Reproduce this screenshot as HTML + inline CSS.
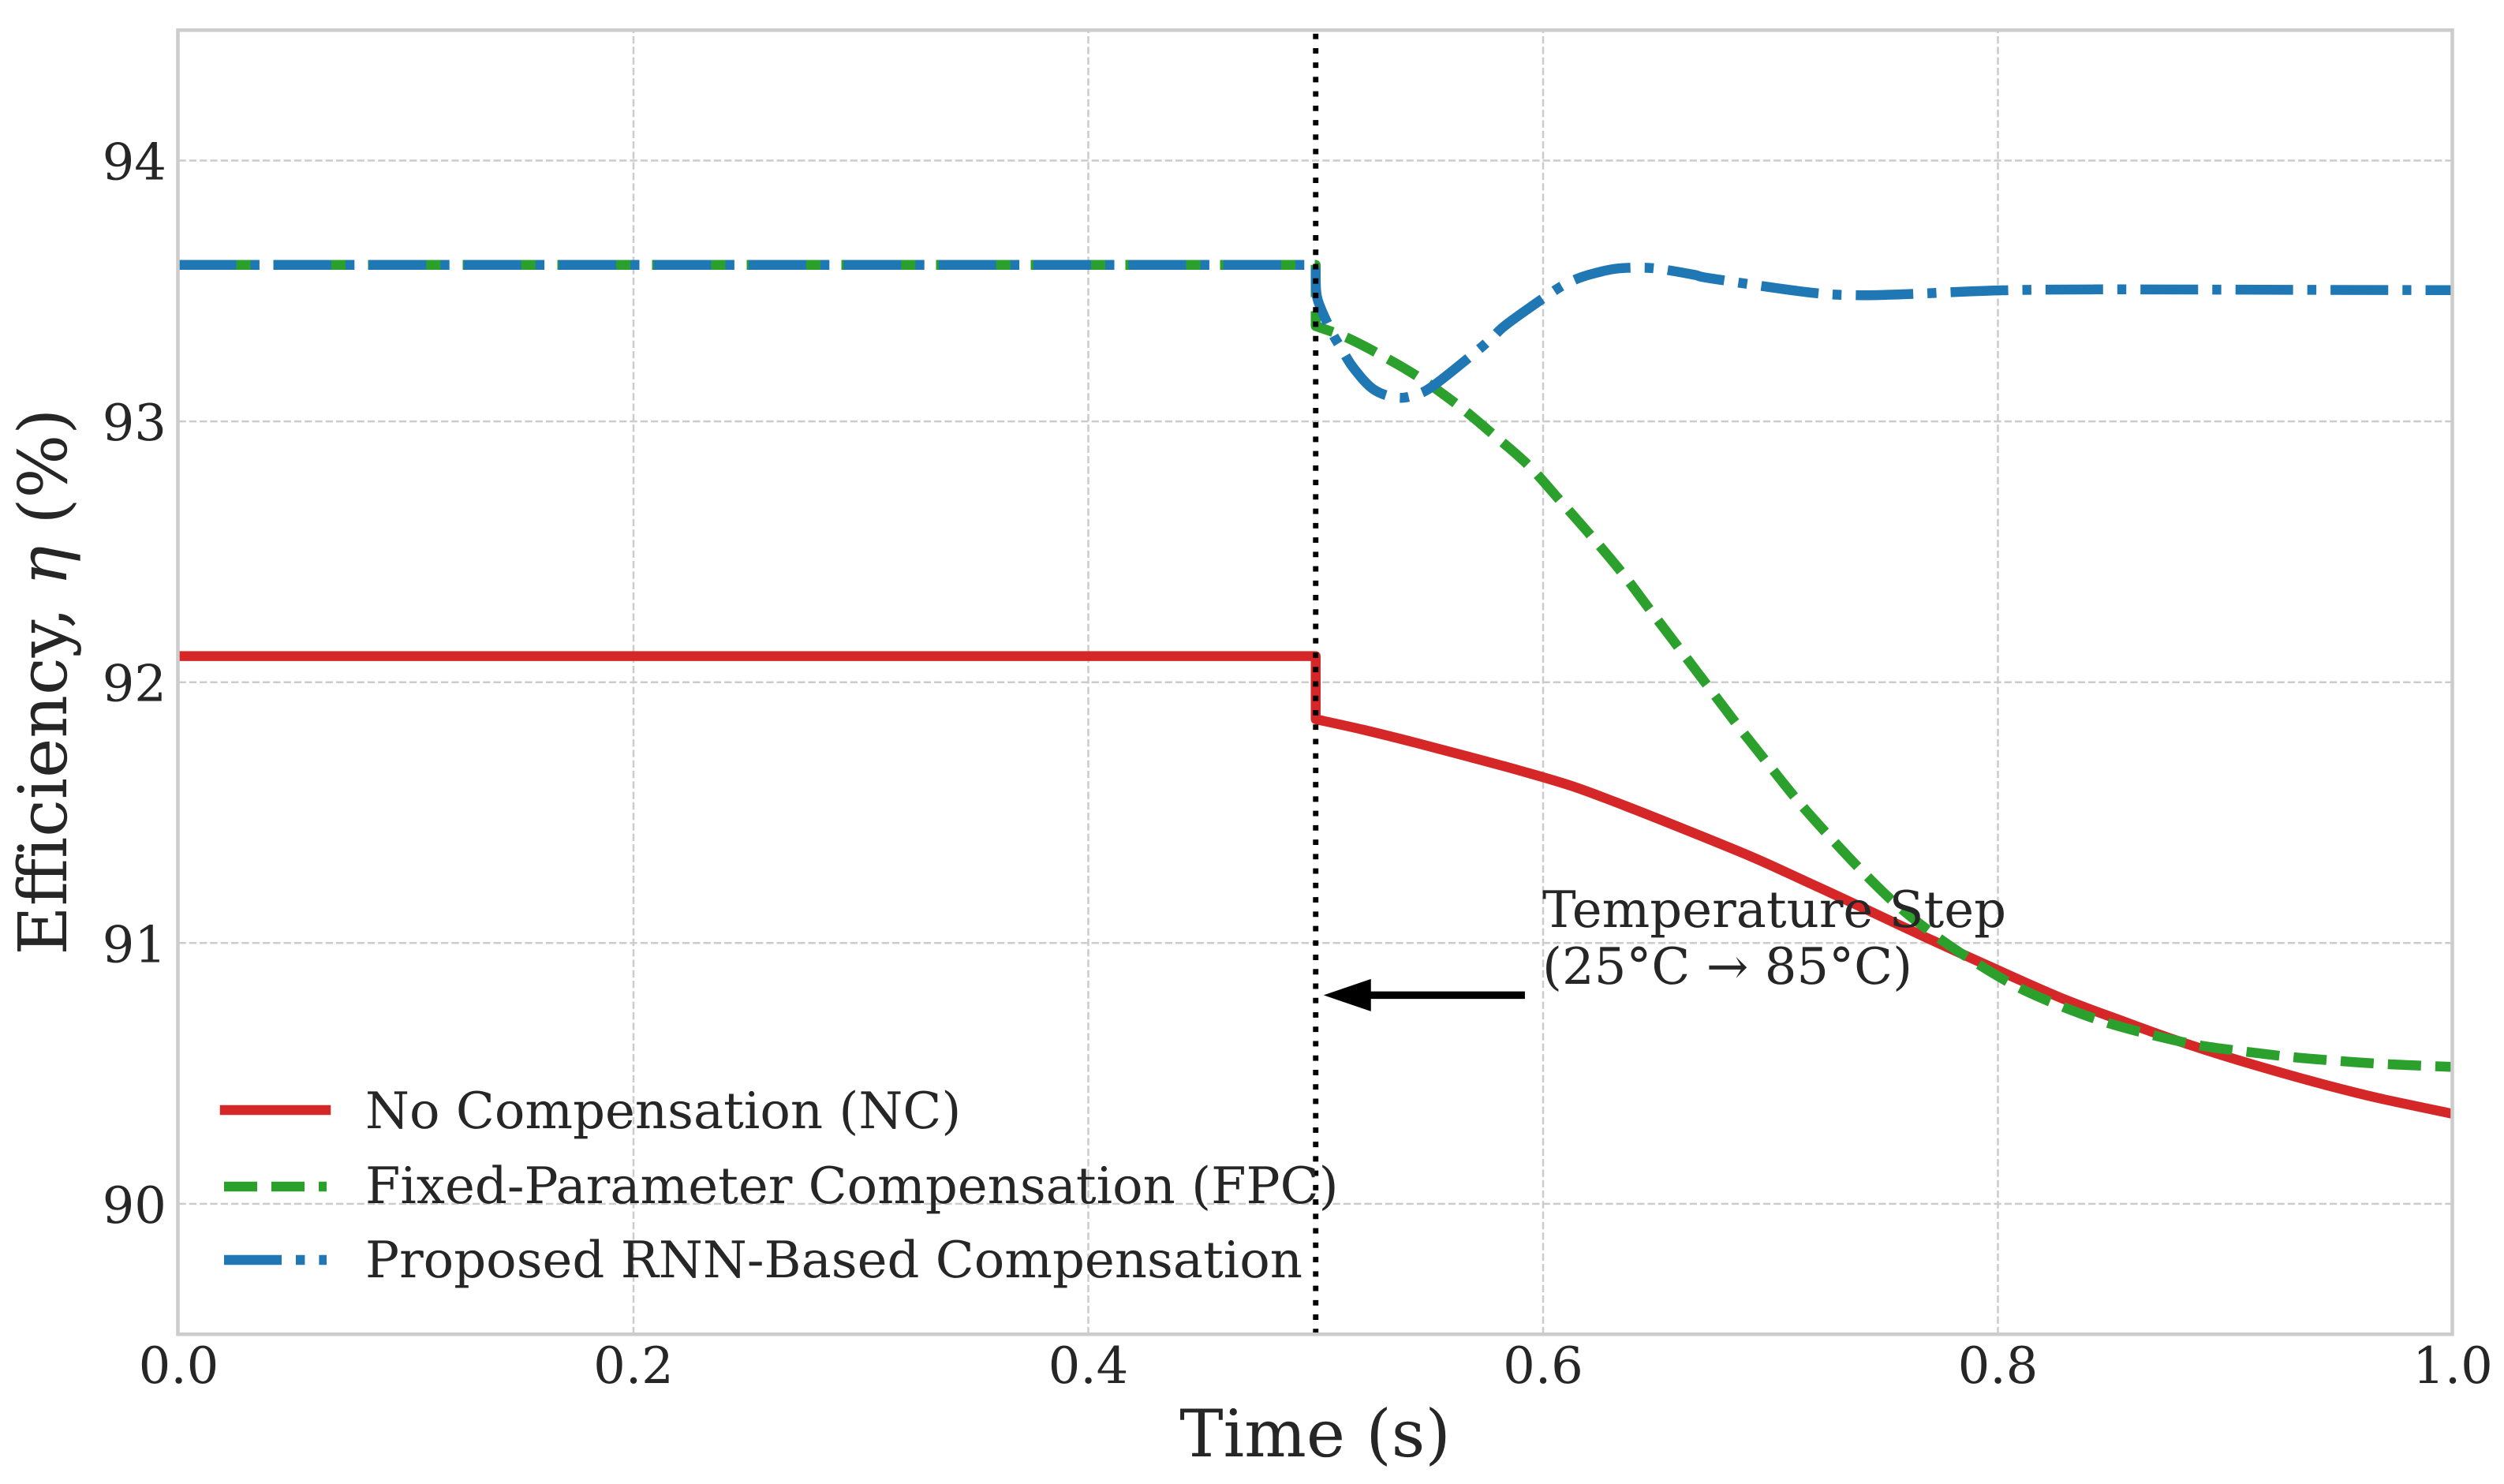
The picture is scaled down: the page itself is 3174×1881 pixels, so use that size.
<!DOCTYPE html>
<html lang="en">
<head>
<meta charset="utf-8">
<title>Efficiency vs Time</title>
<style>
html,body{margin:0;padding:0;background:#fff;width:3174px;height:1881px;overflow:hidden}
svg{display:block}
text{font-family:"DejaVu Serif","Liberation Serif",serif;fill:#262626;text-rendering:geometricPrecision}
</style>
</head>
<body>
<svg id="chart" xmlns="http://www.w3.org/2000/svg" width="3174" height="1881" viewBox="0 0 3174 1881">
  <defs>
    <clipPath id="plot-clip"><rect x="225.5" y="38.2" width="2883" height="1653"/></clipPath>
  </defs>
  <rect x="0" y="0" width="3174" height="1881" fill="#ffffff"/>
  <g id="grid"></g>
  <g id="series" clip-path="url(#plot-clip)"></g>
  <g id="annotation"></g>
  <rect x="225.5" y="38.2" width="2883" height="1653" fill="none" stroke="#cccccc" stroke-width="4.5"/>
  <g id="x-ticks"></g>
  <g id="y-ticks"></g>
  <text x="1667" y="1846" font-size="83" text-anchor="middle">Time (s)</text>
  <text transform="translate(84,864) rotate(-90)" font-size="85" text-anchor="middle">Efficiency, <tspan font-style="italic">η</tspan> (%)</text>
  <text x="1955" y="1175" font-size="64">Temperature Step</text>
  <text x="1955" y="1247" font-size="64">(25°C → 85°C)</text>
  <g>
    <line x1="285" x2="413" y1="1407" y2="1407" stroke="#d62728" stroke-width="12.5" stroke-linecap="square"/>
    <text x="463" y="1430" font-size="64">No Compensation (NC)</text>
    <line x1="284" x2="414" y1="1504" y2="1504" stroke="#2ca02c" stroke-width="12.5" stroke-dasharray="42 18"/>
    <text x="463" y="1525" font-size="64">Fixed-Parameter Compensation (FPC)</text>
    <line x1="284" x2="414" y1="1597" y2="1597" stroke="#1f77b4" stroke-width="12.5" stroke-dasharray="73 18 11.4 18"/>
    <text x="463" y="1619" font-size="64">Proposed RNN-Based Compensation</text>
  </g>
</svg>
<script>
const xTicks = [0.0, 0.2, 0.4, 0.6, 0.8, 1.0];
const xTickLabels = ["0.0", "0.2", "0.4", "0.6", "0.8", "1.0"];
const yTicks = [90, 91, 92, 93, 94];
const yTickLabels = ["90", "91", "92", "93", "94"];

const stepTime = 0.5;
const arrowValue = 90.8;
const arrowTailTime = 0.592;

const timeNC = [0, 0.5, 0.5, 0.5208, 0.5439, 0.567, 0.5902, 0.6133, 0.6364, 0.6596, 0.6919, 0.7151, 0.7382, 0.7613, 0.7845, 0.8076, 0.8307, 0.8538, 0.8747, 0.8978, 0.9209, 0.9441, 0.9671, 1.0];
const valuesNC = [92.1, 92.1, 91.858, 91.818, 91.768, 91.715, 91.66, 91.6, 91.525, 91.445, 91.33, 91.238, 91.145, 91.05, 90.957, 90.866, 90.779, 90.704, 90.638, 90.572, 90.512, 90.456, 90.406, 90.345];

const timeFPC = [0, 0.5, 0.5, 0.5127, 0.5266, 0.5445, 0.5624, 0.578, 0.5937, 0.6081, 0.622, 0.6353, 0.648, 0.6607, 0.6734, 0.6861, 0.6992, 0.7125, 0.7264, 0.7411, 0.7561, 0.7729, 0.7902, 0.8085, 0.8275, 0.8475, 0.8677, 0.8885, 0.9094, 0.9302, 0.9512, 0.9723, 1.0];
const valuesFPC = [93.6, 93.6, 93.365, 93.325, 93.264, 93.174, 93.063, 92.95, 92.83, 92.69, 92.552, 92.413, 92.266, 92.12, 91.974, 91.828, 91.684, 91.54, 91.404, 91.268, 91.142, 91.026, 90.925, 90.832, 90.759, 90.696, 90.648, 90.608, 90.583, 90.562, 90.547, 90.535, 90.525];

const timeRNN = [0, 0.5, 0.5, 0.5009, 0.5069, 0.5115, 0.5167, 0.5254, 0.5358, 0.5443, 0.5521, 0.5705, 0.5778, 0.5844, 0.6041, 0.6119, 0.6202, 0.6318, 0.6445, 0.6532, 0.6665, 0.6739, 0.7155, 0.7363, 0.7572, 0.8, 0.8415, 0.9014, 1.0];
const valuesRNN = [93.6, 93.6, 93.547, 93.466, 93.345, 93.276, 93.204, 93.123, 93.091, 93.103, 93.139, 93.267, 93.323, 93.375, 93.496, 93.535, 93.562, 93.585, 93.589, 93.582, 93.562, 93.548, 93.496, 93.484, 93.487, 93.502, 93.506, 93.505, 93.503];

const SVGNS = "http://www.w3.org/2000/svg";
function xScale(t) { return 226.5 + t * 2882.5; }
function yScale(v) { return 203.5 + (94 - v) * 330.6; }
function make(tag, parent, attrs) {
  const el = document.createElementNS(SVGNS, tag);
  for (const k in attrs) el.setAttribute(k, attrs[k]);
  parent.appendChild(el);
  return el;
}

function buildPath(times, values) {
  const pts = times.map(function (t, i) { return [xScale(t), yScale(values[i])]; });
  let d = "M" + pts[0][0].toFixed(2) + " " + pts[0][1].toFixed(2);
  for (let i = 1; i < pts.length; i++) {
    const p1 = pts[i - 1], p2 = pts[i];
    if (times[i] <= stepTime) {
      d += "L" + p2[0].toFixed(2) + " " + p2[1].toFixed(2);
    } else {
      const p0 = times[i - 1] <= stepTime ? p1 : pts[i - 2];
      const p3 = i + 1 < pts.length ? pts[i + 1] : p2;
      const c1x = p1[0] + (p2[0] - p0[0]) / 6, c1y = p1[1] + (p2[1] - p0[1]) / 6;
      const c2x = p2[0] - (p3[0] - p1[0]) / 6, c2y = p2[1] - (p3[1] - p1[1]) / 6;
      d += "C" + c1x.toFixed(2) + " " + c1y.toFixed(2) + " " + c2x.toFixed(2) + " " + c2y.toFixed(2) + " " + p2[0].toFixed(2) + " " + p2[1].toFixed(2);
    }
  }
  return d;
}

const gridG = document.getElementById("grid");
const xTickG = document.getElementById("x-ticks");
const yTickG = document.getElementById("y-ticks");
const seriesG = document.getElementById("series");
const annG = document.getElementById("annotation");

xTicks.forEach(function (t, i) {
  if (t > 0 && t < 1) {
    const g = make("line", gridG, { x1: xScale(t), x2: xScale(t), y1: yScale(89.5), y2: yScale(94.5), stroke: "#cccccc", "stroke-width": 2.5, "stroke-dasharray": "9.3 4" });
    
    
  }
  const lab = make("text", xTickG, { x: xScale(t), y: 1753, "font-size": 64, "text-anchor": "middle" });
  lab.textContent = xTickLabels[i];
  
  
});

yTicks.forEach(function (v, i) {
  const g = make("line", gridG, { x1: xScale(0), x2: xScale(1), y1: yScale(v), y2: yScale(v), stroke: "#cccccc", "stroke-width": 2.5, "stroke-dasharray": "9.3 4" });
  
  
  const lab = make("text", yTickG, { x: 211, y: yScale(v) + 24, "font-size": 64, "text-anchor": "end" });
  lab.textContent = yTickLabels[i];
  
  
});

const lineNC = make("path", seriesG, { d: buildPath(timeNC, valuesNC), fill: "none", stroke: "#d62728", "stroke-width": 12.5, "stroke-linejoin": "round", "stroke-linecap": "square" });



const lineFPC = make("path", seriesG, { d: buildPath(timeFPC, valuesFPC), fill: "none", stroke: "#2ca02c", "stroke-width": 12.5, "stroke-linejoin": "round", "stroke-dasharray": "42 18" });



const lineRNN = make("path", seriesG, { d: buildPath(timeRNN, valuesRNN), fill: "none", stroke: "#1f77b4", "stroke-width": 12.5, "stroke-linejoin": "round", "stroke-dasharray": "73 18 11.4 18" });



const stepLine = make("line", annG, { x1: xScale(stepTime), x2: xScale(stepTime), y1: yScale(89.5), y2: yScale(94.5), stroke: "#000000", "stroke-width": 6.9, "stroke-dasharray": "6.9 11.34" });



const ax = xScale(stepTime), ay = yScale(arrowValue);
const arrowShaft = make("line", annG, { x1: xScale(arrowTailTime), x2: ax + 60, y1: ay, y2: ay, stroke: "#000000", "stroke-width": 9.5 });


const arrowHead = make("path", annG, { d: "M" + (ax + 10) + " " + ay + "L" + (ax + 70) + " " + (ay - 20.5) + "L" + (ax + 70) + " " + (ay + 20.5) + "Z", fill: "#000000" });


</script>
</body>
</html>
